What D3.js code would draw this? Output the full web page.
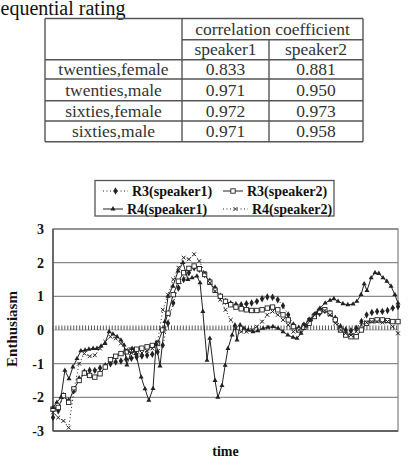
<!DOCTYPE html>
<html>
<head>
<meta charset="utf-8">
<script src="https://cdn.jsdelivr.net/npm/d3@7"></script>
<style>
  body { margin: 0; background: #fff; }
  svg { display: block; font-family: "Liberation Serif", "Times New Roman", serif; }
</style>
</head>
<body>
<div id="chart"></div>
<script>
// table data //
const rowLabels = ['twenties,female', 'twenties,male', 'sixties,female', 'sixties,male']
const speakerCols = ['speaker1', 'speaker2']
const speaker1 = [0.833, 0.971, 0.972, 0.971]
const speaker2 = [0.881, 0.950, 0.973, 0.958]

// chart data //
const yTicks = [3, 2, 1, 0, -1, -2, -3]
const times = d3.range(67).map(i => i * 1.5)

const r3s1 = [-2.6, -2.4, -1.95, -2.1, -1.8, -1.45, -1.25, -1.2, -1.2, -1.13,
  -1.06, -1.0, -0.95, -0.92, -0.87, -0.84, -0.8, -0.77, -0.75, -0.72,
  -0.65, -0.45, 0.2, 0.8, 1.25, 1.5, 1.7, 1.85, 1.8, 1.65,
  1.45, 1.25, 1.0, 0.85, 0.78, 0.75, 0.75, 0.78, 0.8, 0.85,
  0.93, 0.98, 0.97, 0.9, 0.72, 0.45, 0.15, 0.05, 0.15, 0.3,
  0.45, 0.5, 0.58, 0.5, 0.35, 0.1, 0.0, -0.02, 0.05, 0.25,
  0.45, 0.52, 0.55, 0.55, 0.58, 0.65, 0.7]

const r3s2 = [-2.35, -2.3, -1.95, -2.15, -1.75, -1.5, -1.28, -1.35, -1.4, -1.3,
  -1.1, -0.88, -0.78, -0.7, -0.65, -0.6, -0.57, -0.54, -0.5, -0.46,
  -0.4, 0.0, 0.5, 1.05, 1.45, 1.7, 1.83, 1.9, 1.82, 1.65,
  1.42, 1.18, 1.0, 0.85, 0.75, 0.68, 0.63, 0.6, 0.58, 0.58,
  0.6, 0.65, 0.68, 0.6, 0.45, 0.3, 0.1, 0.0, 0.08, 0.2,
  0.4, 0.55, 0.6, 0.5, 0.3, 0.0, -0.15, -0.2, -0.2, 0.0,
  0.2, 0.28, 0.3, 0.3, 0.28, 0.25, 0.25]

const r4s2 = [-2.45, -2.6, -2.7, -2.9, -1.8, -1.0, -0.7, -0.78, -0.75, -0.55,
  -0.35, -0.2, -0.25, -0.4, -0.58, -0.68, -0.72, -0.68, -0.62, -0.55,
  -0.35, 0.6, 1.05, 1.5, 1.85, 2.15, 2.1, 2.25, 2.05, 1.7,
  1.4, 1.15, 0.9, 0.6, 0.3, 0.05, -0.05, -0.05, 0.0, 0.1,
  0.25, 0.45, 0.55, 0.45, 0.3, 0.15, -0.05, 0.0, 0.15, 0.3,
  0.45, 0.6, 0.58, 0.45, 0.2, 0.0, -0.1, -0.15, -0.05, 0.15,
  0.22, 0.25, 0.25, 0.22, 0.25, 0.1, -0.1]

// R4(speaker1) has its own (uneven) sample times
const r4s1Times = [0, 1.1, 2.3, 3.4, 4.6, 5.7, 6.9, 8.0, 9.2, 10.3,
  11.5, 12.6, 13.8, 14.9, 16.1, 17.2, 18.4, 19.5, 20.4, 21.2,
  22.7, 23.8, 25.3, 26.4, 27.5, 28.7, 29.6, 30.7, 32.1, 33.0,
  34.4, 35.9, 37.3, 38.7, 39.9, 41.3, 42.2, 43.0, 44.2, 45.0,
  46.5, 47.3, 48.5, 49.4, 50.2, 51.4, 52.2, 52.8, 53.7, 54.8,
  56.0, 57.4, 58.8, 60.3, 61.7, 63.1, 64.6, 66.0, 67.4, 68.9,
  70.0, 71.2, 72.6, 74.0, 75.5, 76.6, 78.1, 79.5, 80.6, 81.8,
  83.2, 84.6, 86.1, 87.2, 88.4, 89.3, 90.1, 91.3, 92.4, 93.5,
  94.7, 95.8, 97.0, 98.1, 99.0]
const r4s1 = [-2.3, -2.15, -2.0, -1.2, -1.45, -1.1, -0.85, -0.62, -0.6, -0.57,
  -0.55, -0.55, -0.48, -0.4, -0.05, -0.12, -0.2, -0.3, -0.45, -1.04,
  -0.55, -0.7, -1.4, -1.75, -2.09, -1.74, -0.4, -1.07, 0.25, 1.0,
  1.3, 1.75, 2.0, 1.5, 1.55, 1.6, 1.4, 0.55, -0.9, -0.25,
  -1.5, -2.0, -1.65, -1.05, -0.55, -0.15, 0.15, -0.3, 0.15, 0.05,
  0.0, -0.05, -0.02, 0.05, 0.08, 0.1, 0.05, -0.05, -0.15, -0.22,
  -0.25, -0.1, 0.12, 0.3, 0.5, 0.65, 0.8, 0.88, 0.93, 0.85,
  0.78, 0.75, 0.77, 0.85, 1.05, 1.37, 1.17, 1.55, 1.7, 1.68,
  1.55, 1.45, 1.3, 1.05, 0.8]

const seriesNames = ['R3(speaker1)', 'R3(speaker2)', 'R4(speaker1)', 'R4(speaker2)']

// layout //
const width = 409
const height = 461
const ink = '#222'
const plot = { left: 53, right: 398, top: 229, bottom: 431 }
const tableCols = [45, 182, 269, 363]
const tableRows = [18.5, 39.7, 59.7, 79, 100.7, 121, 141.7]

const svg = d3.select('#chart').append('svg')
  .attr('width', width)
  .attr('height', height)

// caption fragment above the table
svg.append('text')
  .attr('x', 0.5)
  .attr('y', 15)
  .style('font-size', '20px')
  .attr('fill', '#111')
  .text('equential rating')

// table //
const table = svg.append('g')
const tStroke = '#555'
const hLine = (x1, x2, y) => table.append('line')
  .attr('x1', x1).attr('x2', x2).attr('y1', y).attr('y2', y)
  .attr('stroke', tStroke).attr('stroke-width', 1.4)
const vLine = (x, y1, y2) => table.append('line')
  .attr('x1', x).attr('x2', x).attr('y1', y1).attr('y2', y2)
  .attr('stroke', tStroke).attr('stroke-width', 1.4)

hLine(tableCols[0], tableCols[3], tableRows[0])
hLine(tableCols[1], tableCols[3], tableRows[1])
tableRows.slice(2).forEach(y => hLine(tableCols[0], tableCols[3], y))
vLine(tableCols[0], tableRows[0], tableRows[6])
vLine(tableCols[1], tableRows[0], tableRows[6])
vLine(tableCols[2], tableRows[1], tableRows[6])
vLine(tableCols[3], tableRows[0], tableRows[6])

const cellText = (x, r0, r1, txt) => table.append('text')
  .attr('x', x)
  .attr('y', (r0 + r1) / 2)
  .attr('dy', '0.33em')
  .attr('text-anchor', 'middle')
  .style('font-size', '17.5px')
  .attr('fill', '#333')
  .text(txt)

const colMid = i => (tableCols[i] + tableCols[i + 1]) / 2
cellText((tableCols[1] + tableCols[3]) / 2, tableRows[0], tableRows[1], 'correlation coefficient')
speakerCols.forEach((s, i) => cellText(colMid(i + 1), tableRows[1], tableRows[2], s))
rowLabels.forEach((lab, i) => {
  cellText(colMid(0), tableRows[i + 2], tableRows[i + 3], lab)
  cellText(colMid(1), tableRows[i + 2], tableRows[i + 3], speaker1[i].toFixed(3))
  cellText(colMid(2), tableRows[i + 2], tableRows[i + 3], speaker2[i].toFixed(3))
})

// scales //
const x = d3.scaleLinear().domain([0, 99]).range([plot.left, plot.right])
const y = d3.scaleLinear().domain([-3, 3]).range([plot.bottom, plot.top])

// grid
svg.append('g')
  .selectAll('line')
  .data(yTicks.filter(d => d !== 0))
  .enter()
  .append('line')
  .attr('x1', plot.left).attr('x2', plot.right)
  .attr('y1', d => y(d)).attr('y2', d => y(d))
  .attr('stroke', '#8a8a8a')
  .attr('stroke-width', 1.3)

// zero reference: thin line with dense ticks
svg.append('line')
  .attr('x1', plot.left).attr('x2', plot.right)
  .attr('y1', y(0)).attr('y2', y(0))
  .attr('stroke', '#999').attr('stroke-width', 0.8)
svg.append('g')
  .selectAll('line')
  .data(d3.range(0, 99.01, 0.85))
  .enter()
  .append('line')
  .attr('x1', d => x(d)).attr('x2', d => x(d))
  .attr('y1', y(0)).attr('y2', y(0) - 4.5)
  .attr('stroke', '#444').attr('stroke-width', 0.9)

// frame
svg.append('rect')
  .attr('x', plot.left).attr('y', plot.top)
  .attr('width', plot.right - plot.left).attr('height', plot.bottom - plot.top)
  .attr('fill', 'none').attr('stroke', '#8a8a8a').attr('stroke-width', 1.3)
svg.append('line')
  .attr('x1', plot.left).attr('x2', plot.left)
  .attr('y1', plot.top).attr('y2', plot.bottom)
  .attr('stroke', '#444').attr('stroke-width', 1.3)
svg.append('line')
  .attr('x1', plot.left).attr('x2', plot.right)
  .attr('y1', plot.bottom).attr('y2', plot.bottom)
  .attr('stroke', '#555').attr('stroke-width', 1.3)

// y axis labels
const yAxis = d3.axisLeft(y)
  .tickValues(yTicks)
  .tickFormat(d => String(d))
  .tickSize(0)
  .tickPadding(9)
svg.append('g')
  .attr('transform', `translate(${plot.left}, 0)`)
  .call(yAxis)
  .call(g => g.select('.domain').remove())
  .selectAll('text')
  .style('font-family', '"Liberation Serif", serif')
  .style('font-size', '14px')
  .style('font-weight', 'bold')
  .attr('fill', '#111')

svg.append('text')
  .attr('transform', `translate(17, ${(plot.top + plot.bottom) / 2 - 1}) rotate(-90)`)
  .attr('text-anchor', 'middle')
  .style('font-size', '15px')
  .style('font-weight', 'bold')
  .attr('fill', '#111')
  .text('Enthusiasm')

svg.append('text')
  .attr('x', (plot.left + plot.right) / 2)
  .attr('y', 456)
  .attr('text-anchor', 'middle')
  .style('font-size', '14px')
  .style('font-weight', 'bold')
  .attr('fill', '#111')
  .text('time')

// markers //
const markers = {
  dot: (g) => g.append('path').attr('d', d3.symbol(d3.symbolDiamond, 16)()).attr('fill', ink),
  square: (g) => g.append('rect').attr('x', -2.2).attr('y', -2.2).attr('width', 4.4).attr('height', 4.4)
    .attr('fill', '#fff').attr('stroke', ink).attr('stroke-width', 0.9),
  tri: (g) => g.append('path').attr('d', d3.symbol(d3.symbolTriangle, 11)()).attr('fill', ink),
  cross: (g) => g.append('path').attr('d', 'M-1.9,-1.9L1.9,1.9M-1.9,1.9L1.9,-1.9')
    .attr('stroke', ink).attr('stroke-width', 1)
}

const series = [
  { name: seriesNames[0], t: times, v: r3s1, dash: '1,2.5', marker: 'dot' },
  { name: seriesNames[1], t: times, v: r3s2, dash: null, marker: 'square' },
  { name: seriesNames[2], t: r4s1Times, v: r4s1, dash: null, marker: 'tri' },
  { name: seriesNames[3], t: times, v: r4s2, dash: '1,2.5', marker: 'cross' }
]

const line = d3.line().x(d => x(d[0])).y(d => y(d[1]))

series.forEach(s => {
  const pts = s.t.map((t, i) => [t, s.v[i]])
  svg.append('path')
    .datum(pts)
    .attr('d', line)
    .attr('fill', 'none')
    .attr('stroke', ink)
    .attr('stroke-width', 1)
    .attr('stroke-dasharray', s.dash)
  const g = svg.append('g')
  pts.forEach(p => {
    const m = g.append('g').attr('transform', `translate(${x(p[0])}, ${y(p[1])})`)
    markers[s.marker](m)
  })
})

// legend //
const legend = svg.append('g')
legend.append('rect')
  .attr('x', 95).attr('y', 180.5)
  .attr('width', 239).attr('height', 35.5)
  .attr('fill', '#fff').attr('stroke', '#555').attr('stroke-width', 1.3)

const legendPos = [[103, 191], [223, 191], [103, 209], [223, 209]]
series.forEach((s, i) => {
  const [lx, ly] = legendPos[i]
  const symW = s.dash ? 25 : 20
  legend.append('line')
    .attr('x1', lx).attr('x2', lx + symW)
    .attr('y1', ly).attr('y2', ly)
    .attr('stroke', ink).attr('stroke-width', 1)
    .attr('stroke-dasharray', s.dash)
  const m = legend.append('g').attr('transform', `translate(${lx + symW / 2}, ${ly})`)
  markers[s.marker](m)
  legend.append('text')
    .attr('x', lx + symW + 4)
    .attr('y', ly)
    .attr('dy', '0.35em')
    .style('font-size', '14px')
    .style('font-weight', 'bold')
    .attr('fill', '#111')
    .text(s.name)
})
</script>
</body>
</html>
